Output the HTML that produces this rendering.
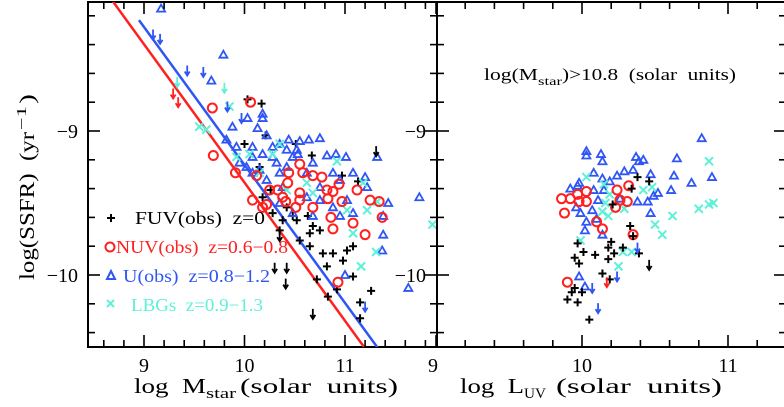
<!DOCTYPE html>
<html><head><meta charset="utf-8">
<style>
html,body{margin:0;padding:0;background:#fff;}
svg{display:block;font-family:"Liberation Serif",serif;}
text{white-space:pre;}
</style></head>
<body>
<svg id="chart" width="784" height="407" viewBox="0 0 784 407">
<defs>
<clipPath id="clipL"><rect x="88" y="2" width="349" height="345"/></clipPath>
<clipPath id="clipR"><rect x="437" y="2" width="347" height="345"/></clipPath>
</defs>
<g id="leftPanel"></g>
<g id="rightPanel"></g>
<g transform="translate(34,280) rotate(-90)" font-size="21">
<text x="0" y="0" textLength="148" lengthAdjust="spacingAndGlyphs">log(SSFR)  (yr</text>
<text x="150" y="-8" font-size="14" textLength="24" lengthAdjust="spacingAndGlyphs">−1</text>
<text x="176" y="0" textLength="10" lengthAdjust="spacingAndGlyphs">)</text>
</g>
<g font-size="21">
<text x="134" y="393" textLength="72" lengthAdjust="spacingAndGlyphs">log  M</text>
<text x="206" y="398" font-size="15" textLength="30" lengthAdjust="spacingAndGlyphs">star</text>
<text x="240" y="393" textLength="158" lengthAdjust="spacingAndGlyphs">(solar  units)</text>
</g>
<g font-size="21">
<text x="460" y="393" textLength="64" lengthAdjust="spacingAndGlyphs">log  L</text>
<text x="524" y="398" font-size="15" textLength="22" lengthAdjust="spacingAndGlyphs">UV</text>
<text x="556" y="393" textLength="166" lengthAdjust="spacingAndGlyphs">(solar  units)</text>
</g>
<g font-size="17">
<text x="484" y="80" textLength="54" lengthAdjust="spacingAndGlyphs">log(M</text>
<text x="538" y="85" font-size="12" textLength="24" lengthAdjust="spacingAndGlyphs">star</text>
<text x="562" y="80" textLength="174" lengthAdjust="spacingAndGlyphs">)&gt;10.8  (solar  units)</text>
</g>
<g font-size="18">
<g><path d="M107,218H115M111,214V222" stroke="#000" stroke-width="2"/><text x="135" y="224" textLength="130" lengthAdjust="spacingAndGlyphs">FUV(obs)  z=0</text></g>
<g><circle cx="110" cy="247" r="4.5" fill="none" stroke="#ff2020" stroke-width="2"/><text x="116" y="253" fill="#ff2020" textLength="172" lengthAdjust="spacingAndGlyphs">NUV(obs)  z=0.6−0.8</text></g>
<g><path d="M107,279 L115,279 L111,271 Z" fill="none" stroke="#2f55f5" stroke-width="2"/><text x="123" y="282" fill="#2f55f5" textLength="147" lengthAdjust="spacingAndGlyphs">U(obs)  z=0.8−1.2</text></g>
<g><path d="M107,300L114,307M107,307L114,300" stroke="#5ef0d8" stroke-width="2"/><text x="131" y="311" fill="#5ef0d8" textLength="132" lengthAdjust="spacingAndGlyphs">LBGs  z=0.9−1.3</text></g>
</g>
</svg>
<script>
// ---- data (left panel: log Mstar vs log SSFR) ----
const nuvX=[10.06,9.68,9.69,9.91,10.12,10.08,10.18,10.25,10.33,10.38,10.43,10.44,10.55,10.58,10.68,10.77,10.94,10.82,10.83,10.88,10.97,11.12,11.25,11.34,11.37,11.08,10.88,10.86,10.68,10.55,10.51,10.55,10.41,11.20,10.93,10.22];
const nuvY=[-8.80,-8.84,-9.17,-9.29,-9.31,-9.48,-9.53,-9.41,-9.41,-9.46,-9.36,-9.29,-9.23,-9.29,-9.31,-9.32,-9.37,-9.41,-9.47,-9.42,-9.49,-9.41,-9.48,-9.49,-9.60,-9.64,-9.68,-9.60,-9.53,-9.48,-9.53,-9.43,-9.49,-9.72,-10.05,-9.51];
const uX=[9.17,9.79,9.67,10.03,10.18,10.18,10.13,10.22,10.44,10.55,10.64,10.75,10.53,10.82,10.91,11.01,11.32,11.08,11.20,11.43,11.74,11.38,11.38,11.37,11.63,11.00,10.35,10.42,10.28,10.08,9.95,10.02,10.15,10.32,10.48,10.68,10.88,10.95,10.75,10.62,11.02,11.08,10.68,10.48,10.35,10.22,10.08,9.82,9.88,9.92,10.18,10.38,10.88,11.22,10.62,10.42,10.75,10.95,10.35,10.52,10.28,10.08];
const uY=[-8.15,-8.47,-8.65,-8.91,-8.88,-8.91,-8.98,-9.03,-9.06,-9.07,-9.06,-9.05,-9.16,-9.17,-9.16,-9.18,-9.18,-9.29,-9.32,-9.50,-9.46,-9.59,-9.72,-9.83,-10.09,-10.00,-9.09,-9.13,-9.18,-9.18,-9.22,-9.25,-9.27,-9.22,-9.18,-9.22,-9.29,-9.34,-9.39,-9.46,-9.48,-9.57,-9.59,-9.57,-9.29,-9.34,-9.29,-9.06,-8.97,-9.11,-9.16,-9.39,-9.53,-9.39,-9.29,-9.25,-9.48,-9.59,-9.50,-9.13,-9.11,-9.11];
const lbgX=[9.85,10.35,10.28,10.05,10.15,10.62,10.92,11.18,11.02,11.22,11.32,11.08,11.31,11.16,11.87,10.42,10.68,9.62,9.55,9.92];
const lbgY=[-8.83,-9.09,-9.16,-9.16,-9.29,-9.36,-9.21,-9.36,-9.55,-9.55,-9.49,-9.71,-9.84,-9.94,-9.65,-9.41,-9.43,-8.99,-8.97,-9.18];
const fuvX=[10.03,10.17,10.21,10.00,10.51,10.67,10.15,10.97,11.13,10.26,10.18,10.48,10.52,10.38,10.63,10.68,10.75,10.65,10.55,10.65,10.78,10.88,11.02,11.08,10.98,10.82,11.08,10.72,10.92,11.15,11.26,11.15,10.35,10.28,10.42,10.83];
const fuvY=[-8.78,-8.81,-9.03,-9.09,-9.09,-9.17,-9.25,-9.31,-9.35,-9.41,-9.46,-9.59,-9.62,-9.62,-9.59,-9.66,-9.69,-9.71,-9.76,-9.80,-9.85,-9.85,-9.83,-9.80,-9.90,-9.94,-10.01,-10.03,-10.10,-10.19,-10.11,-10.30,-9.69,-9.57,-9.53,-10.15];
const limBlackX=[10.30,10.42,10.41,10.68,11.31,10.35], limBlackY=[-9.95,-9.95,-10.06,-10.27,-9.14,-9.73];
const limBlueX=[9.09,9.16,9.43,9.59,9.83,9.97,11.20], limBlueY=[-8.33,-8.36,-8.58,-8.59,-8.83,-8.91,-10.22];
const limRedX=[9.29,9.34], limRedY=[-8.74,-8.80];
const limCyanX=[9.80,9.33], limCyanY=[-8.70,-8.66];
const redLine=[8.68,-8.09,11.2,-10.51];
const blueLine=[8.95,-8.23,11.33,-10.51];
// ---- data (right panel: log L_UV vs log SSFR) ----
const rUX=[10.03,10.03,10.13,10.14,10.37,10.39,10.42,10.65,10.82,10.89,10.75,10.63,10.47,10.35,10.29,10.24,10.19,10.14,10.08,9.97,9.92,9.98,10.08,10.15,10.11,9.96,9.99,10.03,10.02,10.07,10.10,10.14,10.26,10.38,10.45,10.47,10.52,10.49,10.61,9.98,10.02];
const rUY=[-9.14,-9.17,-9.16,-9.21,-9.18,-9.21,-9.20,-9.19,-9.05,-9.32,-9.36,-9.31,-9.30,-9.27,-9.28,-9.31,-9.35,-9.33,-9.29,-9.38,-9.40,-9.36,-9.41,-9.41,-9.48,-9.53,-9.57,-9.63,-9.69,-9.55,-9.61,-9.72,-9.47,-9.49,-9.49,-9.57,-9.43,-9.45,-9.41,-10.01,-10.08];
const rNX=[9.86,9.92,9.97,9.98,10.03,10.03,9.88,10.10,10.14,10.23,10.24,10.26,10.31,10.32,10.35,9.90];
const rNY=[-9.47,-9.47,-9.44,-9.49,-9.49,-9.42,-9.57,-9.63,-9.68,-9.53,-9.41,-9.48,-9.49,-9.38,-9.72,-10.05];
const rFX=[10.38,10.34,10.46,10.21,10.33,10.35,10.20,10.18,10.28,9.97,10.01,9.95,9.98,10.09,10.18,10.22,10.39,10.14,10.19,9.95,9.93,10.00,9.90,9.97,10.05];
const rFY=[-9.32,-9.40,-9.35,-9.51,-9.66,-9.73,-9.77,-9.81,-9.81,-9.78,-9.84,-9.88,-9.92,-9.86,-9.89,-9.85,-9.85,-9.99,-10.03,-10.09,-10.12,-10.12,-10.17,-10.19,-10.31];
const rLX=[10.03,10.15,10.19,10.16,10.14,10.18,10.29,10.42,10.48,10.50,10.55,10.62,10.80,10.87,10.90,10.87,9.99,10.28,10.34,10.25];
const rLY=[-9.32,-9.37,-9.44,-9.50,-9.56,-9.59,-9.54,-9.41,-9.39,-9.65,-9.72,-9.59,-9.54,-9.51,-9.50,-9.21,-9.76,-9.84,-9.84,-9.94];
const rLimBlackX=[10.46], rLimBlackY=[-9.93];
const rLimBlueX=[10.24,10.07,10.11,10.38], rLimBlueY=[-10.01,-10.09,-10.23,-9.81];
const rLimRedX=[10.17], rLimRedY=[-10.05];
const yTicks=[-9,-10];
const xTicksL=[9,10,11];
const xTicksR=[9,10,11];

// ---- axes ----
const yTop=2, yBot=347;
const ySc=v=>131+(-9-v)*144;
const xL=v=>144+(v-9)*100.5;
const xR=v=>436+(v-9)*146;
const NS="http://www.w3.org/2000/svg";
const RED="#ff2020", BLUE="#2f55f5", CYAN="#5ef0d8";
function mk(tag,attrs,parent){const e=document.createElementNS(NS,tag);for(const k in attrs)e.setAttribute(k,attrs[k]);parent.appendChild(e);return e;}

function panel(g,x0,x1,xs,xmin,xmax,clipId){
  const frame=mk('rect',{x:x0,y:yTop,width:x1-x0,height:yBot-yTop,fill:'none',stroke:'#000','stroke-width':2},g);
  
  
  const plot=mk('g',{'clip-path':'url(#'+clipId+')'},g);
  
  
  for(let i=Math.ceil(xmin*5);i<=Math.floor(xmax*5);i++){
    const v=i/5, px=xs(v), major=(i%5===0), L=major?12:7;
    const t1=mk('line',{x1:px,x2:px,y1:yBot,y2:yBot-L,stroke:'#000','stroke-width':1.6},g);
    
    
    const t2=mk('line',{x1:px,x2:px,y1:yTop,y2:yTop+L,stroke:'#000','stroke-width':1.6},g);
    
    
  }
  for(let i=-52;i<=-40;i++){
    const v=i/5, py=ySc(v); if(py<yTop||py>yBot)continue;
    const major=(i%5===0), L=major?12:7;
    const a=mk('line',{x1:x0,x2:x0+L,y1:py,y2:py,stroke:'#000','stroke-width':1.6},g);
    
    
    const b=mk('line',{x1:x1,x2:x1-L,y1:py,y2:py,stroke:'#000','stroke-width':1.6},g);
    
    
  }
  return plot;
}
function plus(p,xs,X,Y,c){for(let i=0;i<X.length;i++){const x=xs(X[i]),y=ySc(Y[i]);
  const e=mk('path',{d:`M${x-4},${y}H${x+4}M${x},${y-4}V${y+4}`,stroke:c,'stroke-width':2,fill:'none'},p);
  
  }}
function circ(p,xs,X,Y){for(let i=0;i<X.length;i++){
  const e=mk('circle',{cx:xs(X[i]),cy:ySc(Y[i]),r:4.5,fill:'none',stroke:RED,'stroke-width':2},p);
  
  }}
function tri(p,xs,X,Y){for(let i=0;i<X.length;i++){const x=xs(X[i]),y=ySc(Y[i]);
  const e=mk('path',{d:`M${x-4},${y+3}L${x+4},${y+3}L${x},${y-4}Z`,fill:'none',stroke:BLUE,'stroke-width':1.8},p);
  
  }}
function cross(p,xs,X,Y){for(let i=0;i<X.length;i++){const x=xs(X[i]),y=ySc(Y[i]);
  const e=mk('path',{d:`M${x-4},${y-4}L${x+4},${y+4}M${x-4},${y+4}L${x+4},${y-4}`,stroke:CYAN,'stroke-width':2,fill:'none'},p);
  
  }}
function arrow(p,xs,X,Y,c){for(let i=0;i<X.length;i++){const x=xs(X[i]),y=ySc(Y[i]);
  const e=mk('path',{d:`M${x},${y-5}V${y+4}M${x-2.5},${y+1}L${x},${y+5}L${x+2.5},${y+1}`,stroke:c,'stroke-width':1.8,fill:'none'},p);
  
  }}

const L=panel(document.getElementById('leftPanel'),88,437,xL,8.43,11.9,'clipL');
const R=panel(document.getElementById('rightPanel'),437,786,xR,9.0,11.4,'clipR');

const rl=mk('line',{x1:xL(redLine[0]),y1:ySc(redLine[1]),x2:xL(redLine[2]),y2:ySc(redLine[3]),stroke:RED,'stroke-width':2.5},L);


const bl=mk('line',{x1:xL(blueLine[0]),y1:ySc(blueLine[1]),x2:xL(blueLine[2]),y2:ySc(blueLine[3]),stroke:BLUE,'stroke-width':2.5},L);



plus(L,xL,fuvX,fuvY,'#000');
tri(L,xL,uX,uY);
cross(L,xL,lbgX,lbgY);
circ(L,xL,nuvX,nuvY);
arrow(L,xL,limBlackX,limBlackY,'#000');
arrow(L,xL,limBlueX,limBlueY,BLUE);
arrow(L,xL,limRedX,limRedY,RED);
arrow(L,xL,limCyanX,limCyanY,CYAN);

tri(R,xR,rUX,rUY);
cross(R,xR,rLX,rLY);
circ(R,xR,rNX,rNY);
plus(R,xR,rFX,rFY,'#000');
arrow(R,xR,rLimBlackX,rLimBlackY,'#000');
arrow(R,xR,rLimBlueX,rLimBlueY,BLUE);
arrow(R,xR,rLimRedX,rLimRedY,RED);

const svg=document.getElementById('chart');
for(const v of yTicks){
  const t=mk('text',{x:78,y:ySc(v)+7,'font-size':20,'text-anchor':'end'},svg);t.textContent=(v<0?'−':'')+Math.abs(v);
  
  
  const t2=mk('text',{x:426,y:ySc(v)+7,'font-size':20,'text-anchor':'end'},svg);t2.textContent=(v<0?'−':'')+Math.abs(v);
  
  
}
for(const v of xTicksL){const t=mk('text',{x:xL(v),y:372,'font-size':20,'text-anchor':'middle'},svg);t.textContent=v;
  
  }
for(const v of xTicksR){const t=mk('text',{x:v===9?433:xR(v),y:372,'font-size':20,'text-anchor':'middle'},svg);t.textContent=v;
  
  }
</script>
</body></html>
